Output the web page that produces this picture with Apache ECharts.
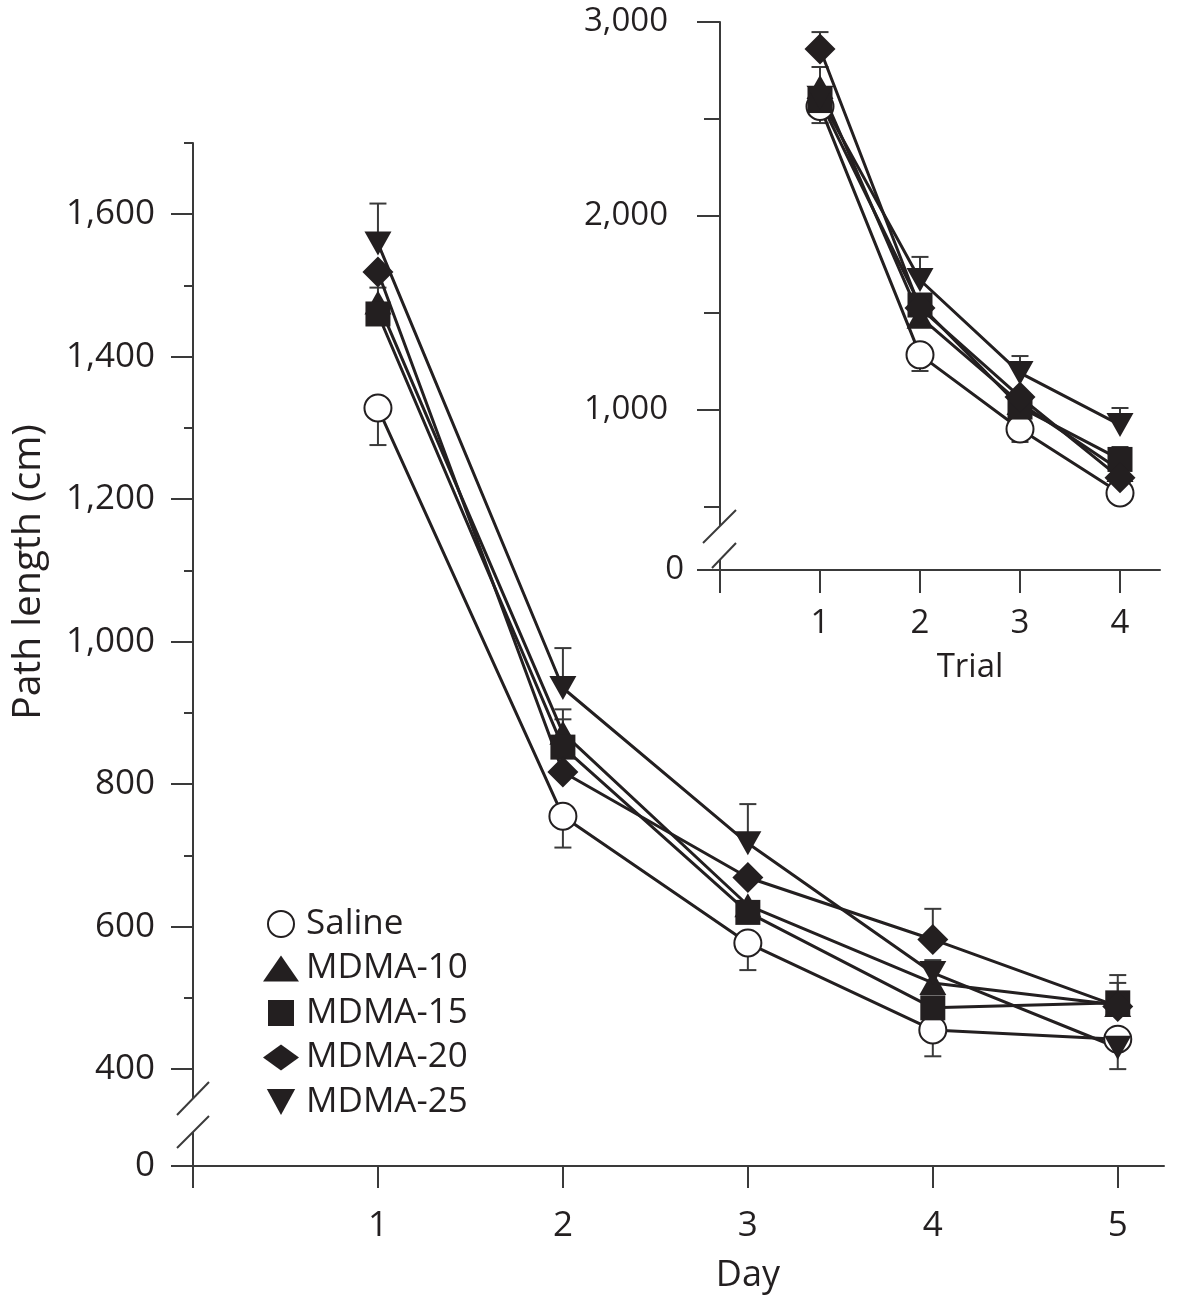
<!DOCTYPE html>
<html>
<head>
<meta charset="utf-8">
<script src="https://cdn.jsdelivr.net/npm/echarts@6/dist/echarts.min.js"></script>
<style>
html,body{margin:0;padding:0;background:#fff;}
#chart{width:1184px;height:1300px;}
</style>
</head>
<body>
<div id="chart"></div>
<script>
// ---------- DATA ----------
const seriesNames = ['Saline', 'MDMA-10', 'MDMA-15', 'MDMA-20', 'MDMA-25'];
const days = [1, 2, 3, 4, 5];
const trials = [1, 2, 3, 4];

// Main panel: path length (cm) per day
const salineDay = [1328, 755, 577, 455, 442];
const mdma10Day = [1476, 872, 630, 521, 490];
const mdma15Day = [1460, 852, 620, 486, 493];
const mdma20Day = [1519, 817, 669, 582, 488];
const mdma25Day = [1559, 935, 717, 535, 430];

// Main panel: error bar end values (null = not visible)
const salineDayErr = [1276, 711, 539, 418, 400];
const mdma10DayErr = [1497, 905, null, null, 521];
const mdma15DayErr = [null, 891, null, null, 532];
const mdma20DayErr = [null, null, null, 625, null];
const mdma25DayErr = [1615, 991, 772, 553, null];

// Inset: path length per trial
const salineTrial = [2565, 1284, 902, 572];
const mdma10Trial = [2665, 1480, 1036, 690];
const mdma15Trial = [2595, 1541, 1015, 745];
const mdma20Trial = [2861, 1526, 1067, 650];
const mdma25Trial = [2610, 1670, 1191, 923];

const salineTrialErr = [2479, 1201, 835, null];
const mdma10TrialErr = [2768, null, null, null];
const mdma15TrialErr = [null, null, null, 809];
const mdma20TrialErr = [2948, null, null, null];
const mdma25TrialErr = [null, 1789, 1278, 1010];

// Tick labels
const mainXLabels = [1, 2, 3, 4, 5];
const mainYLabels = [400, 600, 800, 1000, 1200, 1400, 1600];
const mainYMinor = [500, 700, 900, 1100, 1300, 1500, 1700];
const insetXLabels = [1, 2, 3, 4];
const insetYLabels = [1000, 2000, 3000];
const insetYMinor = [500, 1500, 2500];

// broken-axis: value position where "0" is drawn
const mainZeroPos = 264;
const insetZeroPos = 175;

// ---------- STYLE ----------
const INK = '#231f20';
const AXIS = '#3a3a3a';
const FONT = '"Open Sans", "Noto Sans", sans-serif';
const fmt = v => String(v).replace(/\B(?=(\d{3})+(?!\d))/g, ',');

const markers = {
  'Saline':  { symbol: 'circle', size: 27, rotate: 0, fill: '#fff' },
  'MDMA-10': { symbol: 'triangle', size: [27, 24], rotate: 0, fill: INK },
  'MDMA-15': { symbol: 'rect', size: 25, rotate: 0, fill: INK },
  'MDMA-20': { symbol: 'diamond', size: [31, 31], rotate: 0, fill: INK },
  'MDMA-25': { symbol: 'triangle', size: [27, 24], rotate: 180, fill: INK }
};

const mainVals = [salineDay, mdma10Day, mdma15Day, mdma20Day, mdma25Day];
const mainErrs = [salineDayErr, mdma10DayErr, mdma15DayErr, mdma20DayErr, mdma25DayErr];
const insetVals = [salineTrial, mdma10Trial, mdma15Trial, mdma20Trial, mdma25Trial];
const insetErrs = [salineTrialErr, mdma10TrialErr, mdma15TrialErr, mdma20TrialErr, mdma25TrialErr];

function lineSeries(name, xs, vals, axisIdx) {
  const m = markers[name];
  return {
    name, type: 'line', xAxisIndex: axisIdx, yAxisIndex: axisIdx === 0 ? 0 : 2,
    data: xs.map((x, i) => [x, vals[i]]),
    symbol: m.symbol, symbolSize: m.size, symbolRotate: m.rotate, showAllSymbol: true,
    lineStyle: { color: INK, width: 3 },
    itemStyle: { color: m.fill, borderColor: INK, borderWidth: name === 'Saline' ? 2 : 0, opacity: 1 },
    z: 3, animation: false, silent: true
  };
}

function errSeries(xs, vals, errs, axisIdx) {
  const data = [];
  xs.forEach((x, i) => { if (errs[i] != null) data.push([x, vals[i], errs[i]]); });
  return {
    type: 'custom', xAxisIndex: axisIdx, yAxisIndex: axisIdx === 0 ? 0 : 2,
    data, z: 2, animation: false, silent: true,
    encode: { x: 0, y: [1, 2] },
    renderItem: (params, api) => {
      const p1 = api.coord([api.value(0), api.value(1)]);
      const p2 = api.coord([api.value(0), api.value(2)]);
      const st = { stroke: AXIS, lineWidth: 2 };
      return { type: 'group', children: [
        { type: 'line', shape: { x1: p1[0], y1: p1[1], x2: p2[0], y2: p2[1] }, style: st },
        { type: 'line', shape: { x1: p2[0] - 8.5, y1: p2[1], x2: p2[0] + 8.5, y2: p2[1] }, style: st }
      ]};
    }
  };
}

const series = [];
seriesNames.forEach((n, k) => series.push(errSeries(days, mainVals[k], mainErrs[k], 0)));
seriesNames.forEach((n, k) => series.push(errSeries(trials, insetVals[k], insetErrs[k], 1)));
seriesNames.forEach((n, k) => series.push(lineSeries(n, days, mainVals[k], 0)));
seriesNames.forEach((n, k) => series.push(lineSeries(n, trials, insetVals[k], 1)));

const axisLine = { show: true, lineStyle: { color: AXIS, width: 2 } };
const lbl = size => ({ color: INK, fontFamily: FONT, fontSize: size });

const option = {
  animation: false,
  backgroundColor: '#fff',
  grid: [
    { left: 193, top: 143, width: 971, height: 1023 },
    { left: 720, top: 22, width: 440, height: 548 }
  ],
  xAxis: [
    { type: 'value', gridIndex: 0, min: 0, max: 5.25, axisLine,
      splitLine: { show: false },
      axisTick: { show: true, customValues: [0].concat(mainXLabels), length: 22, lineStyle: { color: AXIS, width: 2 } },
      axisLabel: Object.assign({ customValues: mainXLabels, margin: 43, formatter: v => String(v) }, lbl(35)) },
    { type: 'value', gridIndex: 1, min: 0, max: 4.4, axisLine,
      splitLine: { show: false },
      axisTick: { show: true, customValues: [0].concat(insetXLabels), length: 23, lineStyle: { color: AXIS, width: 2 } },
      axisLabel: Object.assign({ customValues: insetXLabels, margin: 37, formatter: v => String(v) }, lbl(33)) }
  ],
  yAxis: [
    { type: 'value', gridIndex: 0, min: mainZeroPos, max: 1700, axisLine,
      splitLine: { show: false },
      axisTick: { show: true, customValues: [mainZeroPos].concat(mainYLabels), length: 22, lineStyle: { color: AXIS, width: 2 } },
      axisLabel: Object.assign({ customValues: [mainZeroPos].concat(mainYLabels), margin: 38,
        formatter: v => (v < 300 ? '0' : fmt(v)) }, lbl(35)) },
    { type: 'value', gridIndex: 0, position: 'left', offset: 0, min: mainZeroPos, max: 1700,
      axisLine: { show: false }, splitLine: { show: false },
      axisTick: { show: true, customValues: mainYMinor, length: 9, lineStyle: { color: AXIS, width: 2 } },
      axisLabel: { show: false } },
    { type: 'value', gridIndex: 1, min: insetZeroPos, max: 3000, axisLine,
      splitLine: { show: false },
      axisTick: { show: true, customValues: [insetZeroPos].concat(insetYLabels), length: 23, lineStyle: { color: AXIS, width: 2 } },
      axisLabel: Object.assign({ customValues: insetYLabels, margin: 52,
        formatter: v => fmt(v) }, lbl(33)) },
    { type: 'value', gridIndex: 1, position: 'left', offset: 0, min: insetZeroPos, max: 3000,
      axisLine: { show: false }, splitLine: { show: false },
      axisTick: { show: true, customValues: insetYMinor, length: 16, lineStyle: { color: AXIS, width: 2 } },
      axisLabel: Object.assign({ customValues: [insetZeroPos], margin: 36, formatter: () => '0' }, lbl(33)) }
  ],
  legend: {
    orient: 'vertical', left: 258, top: 901, itemGap: 8.5,
    itemWidth: 36, itemHeight: 26, symbolKeepAspect: true,
    textStyle: { color: INK, fontFamily: FONT, fontSize: 35, lineHeight: 36, padding: [0, 0, 0, 2] },
    selectedMode: false,
    data: [
      { name: 'Saline', icon: 'circle', itemStyle: { color: '#fff', borderColor: INK, borderWidth: 2 } },
      { name: 'MDMA-10', icon: 'triangle', itemStyle: { color: INK, borderWidth: 0 } },
      { name: 'MDMA-15', icon: 'path://M0,0L10,0L10,10L0,10Z', itemStyle: { color: INK, borderWidth: 0 } },
      { name: 'MDMA-20', icon: 'diamond', itemStyle: { color: INK, borderWidth: 0 } },
      { name: 'MDMA-25', icon: 'path://M0,0L12,0L6,11Z', itemStyle: { color: INK, borderWidth: 0 } }
    ]
  },
  series
};

const chart = echarts.init(document.getElementById('chart'), null, { renderer: 'canvas' });
chart.setOption(option);

// axis break marks and axis titles (decorations)
const o1 = chart.convertToPixel({ xAxisIndex: 0, yAxisIndex: 0 }, [0, mainZeroPos]);
const o2 = chart.convertToPixel({ xAxisIndex: 1, yAxisIndex: 2 }, [0, insetZeroPos]);
const dayX = chart.convertToPixel({ xAxisIndex: 0, yAxisIndex: 0 }, [3, mainZeroPos]);
const trialX = chart.convertToPixel({ xAxisIndex: 1, yAxisIndex: 2 }, [2.5, insetZeroPos]);
const bs = { stroke: AXIS, lineWidth: 2 };
const txt = (text, x, y, size, rot) => ({
  type: 'text', x, y, rotation: rot || 0, z: 100,
  style: { text, fill: INK, font: size + 'px ' + FONT, textAlign: 'center', textVerticalAlign: 'middle', align: 'center', verticalAlign: 'middle' }
});
chart.setOption({
  graphic: [
    { type: 'rect', z: 100, shape: { x: o1[0] - 4, y: o1[1] - 67, width: 8, height: 33 }, style: { fill: '#fff' } },
    { type: 'line', z: 101, shape: { x1: o1[0] - 16, y1: o1[1] - 51, x2: o1[0] + 16, y2: o1[1] - 84 }, style: bs },
    { type: 'line', z: 101, shape: { x1: o1[0] - 16, y1: o1[1] - 18, x2: o1[0] + 16, y2: o1[1] - 50 }, style: bs },
    { type: 'rect', z: 100, shape: { x: o2[0] - 4, y: o2[1] - 44, width: 8, height: 34 }, style: { fill: '#fff' } },
    { type: 'line', z: 101, shape: { x1: o2[0] - 17, y1: o2[1] - 27, x2: o2[0] + 16, y2: o2[1] - 60 }, style: bs },
    { type: 'line', z: 101, shape: { x1: o2[0] - 8, y1: o2[1] - 2, x2: o2[0] + 16, y2: o2[1] - 27 }, style: bs },
    txt('Path length (cm)', 29, 572, 39, Math.PI / 2),
    txt('Day', dayX[0], 1276, 36, 0),
    txt('Trial', trialX[0], 668, 33, 0)
  ]
});
</script>
</body>
</html>
